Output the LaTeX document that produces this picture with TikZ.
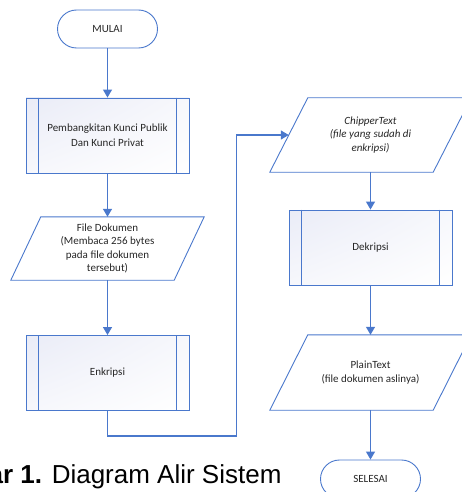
\documentclass[tikz,border=0pt]{standalone}
\usepackage{fontspec}
\setmainfont{Carlito}
\newfontfamily\judulfont{Liberation Sans}
\usetikzlibrary{arrows.meta,shadings}
\definecolor{garisbiru}{HTML}{4A78CC}
\definecolor{isibiru}{HTML}{EAECF7}
\definecolor{teks}{HTML}{262626}

\begin{document}
\begin{tikzpicture}[x=1pt, y=-1pt,
    bingkai/.style={draw=garisbiru, line width=0.9pt},
    terminal/.style={bingkai, rounded corners=19pt, minimum width=100pt, minimum height=38pt,
        font=\fontsize{11}{13.5}\selectfont, text=teks},
    proses/.style={bingkai, upper left=isibiru, lower right=white, upper right=white!60!isibiru,
        lower left=white!60!isibiru, minimum width=163pt,
        minimum height=75pt, align=center, font=\fontsize{11}{15}\selectfont, text=teks},
    io/.style={minimum width=163pt, align=center, font=\fontsize{11}{13.5}\selectfont, text=teks},
    panah/.style={draw=garisbiru, line width=1.2pt, -{Triangle[length=8pt,width=9pt]}}
]
    \useasboundingbox (0,0) rectangle (462,492);
    \clip (0,0) rectangle (462,492);

    % Mulai
    \node[terminal] (mulai) at (107.5,29) {MULAI};

    % Pembangkitan kunci
    \node[proses] (kunci) at (107.5,135.5) {Pembangkitan Kunci Publik\\Dan Kunci Privat};
    \draw[bingkai] ([xshift=13pt]kunci.north west) -- ([xshift=13pt]kunci.south west);
    \draw[bingkai] ([xshift=-13pt]kunci.north east) -- ([xshift=-13pt]kunci.south east);

    % Input file dokumen
    \node[io, minimum height=63pt] (dokumen) at (107.5,248.5)
        {File Dokumen\\(Membaca 256 bytes\\pada file dokumen\\tersebut)};
    \draw[bingkai] ([xshift=15pt]dokumen.north west) -- ([xshift=15pt]dokumen.north east)
        -- ([xshift=-15pt]dokumen.south east) -- ([xshift=-15pt]dokumen.south west) -- cycle;

    % Enkripsi
    \node[proses] (enkripsi) at (107.5,373) {Enkripsi};
    \draw[bingkai] ([xshift=13pt]enkripsi.north west) -- ([xshift=13pt]enkripsi.south west);
    \draw[bingkai] ([xshift=-13pt]enkripsi.north east) -- ([xshift=-13pt]enkripsi.south east);

    % Output chippertext
    \node[io, minimum height=74pt] (cipher) at (370.5,135)
        {\itshape ChipperText\\\itshape (file yang sudah di\\\itshape enkripsi)};
    \draw[bingkai] ([xshift=19pt]cipher.north west) -- ([xshift=19pt]cipher.north east)
        -- ([xshift=-19pt]cipher.south east) -- ([xshift=-19pt]cipher.south west) -- cycle;

    % Dekripsi
    \node[proses] (dekripsi) at (370.5,247.5) {Dekripsi};
    \draw[bingkai] ([xshift=13pt]dekripsi.north west) -- ([xshift=13pt]dekripsi.south west);
    \draw[bingkai] ([xshift=-13pt]dekripsi.north east) -- ([xshift=-13pt]dekripsi.south east);

    % Output plaintext
    \node[io, minimum height=75pt] (plain) at (370.5,372.5)
        {PlainText\\(file dokumen aslinya)};
    \draw[bingkai] ([xshift=19pt]plain.north west) -- ([xshift=19pt]plain.north east)
        -- ([xshift=-19pt]plain.south east) -- ([xshift=-19pt]plain.south west) -- cycle;

    % Selesai
    \node[terminal] (selesai) at (370.5,479) {SELESAI};

    % Alur
    \draw[panah] (mulai) -- (kunci);
    \draw[panah] (kunci) -- (dokumen);
    \draw[panah] (dokumen) -- (enkripsi);
    \draw[panah] (enkripsi.south) -- ++(0,25) -| ([xshift=-52pt]cipher.west) -- (cipher.west);
    \draw[panah] (cipher) -- (dekripsi);
    \draw[panah] (dekripsi) -- (plain);
    \draw[panah] (plain) -- (selesai);

    % Keterangan
    \node[anchor=base east, font=\judulfont\fontsize{26}{30}\selectfont] (judul) at (285,483)
        {\textbf{ar 1.} Diagram Alir Sistem};
\end{tikzpicture}
\end{document}
